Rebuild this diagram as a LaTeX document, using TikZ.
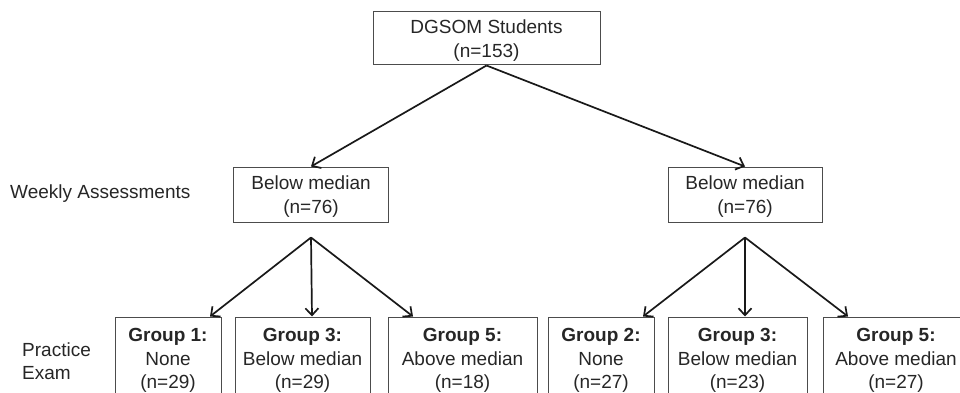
\documentclass[tikz,border=0pt]{standalone}
\usepackage{fontspec}
\setmainfont{Liberation Sans}
\usetikzlibrary{arrows.meta,positioning}

\begin{document}
\begin{tikzpicture}[x=1pt,y=-1pt,
  every node/.style={font=\fontsize{19}{23.5}\selectfont,text=black!85},
  box/.style={draw=black!70,line width=1pt,align=center,inner sep=0pt,text depth=0pt},
  lbl/.style={align=left,inner sep=0pt,anchor=west},
  arr/.style={line width=1.7pt,draw=black!90,-{Straight Barb[length=7pt,width=13pt]}}]
\path[use as bounding box,clip] (0,0) rectangle (960,393);

\node[box,minimum width=227pt,minimum height=53pt] (top) at (486.5,38.5) {DGSOM Students\\(n=153)};

\node[lbl] (wklbl) at (10,194) {Weekly Assessments};
\node[box,minimum width=155pt,minimum height=55pt] (wk1) at (311,194.5) {Below median\\(n=76)};
\node[box,minimum width=154pt,minimum height=55pt] (wk2) at (745,194.5) {Below median\\(n=76)};

\node[lbl] (exlbl) at (22,361) {Practice\\Exam};
\node[box,minimum width=106pt,minimum height=83pt] (g1) at (168,358.5) {\textbf{Group 1:}\\None\\(n=29)};
\node[box,minimum width=135pt,minimum height=83pt] (g2) at (302.5,358.5) {\textbf{Group 3:}\\Below median\\(n=29)};
\node[box,minimum width=149pt,minimum height=83pt] (g3) at (462.5,358.5) {\textbf{Group 5:}\\Above median\\(n=18)};
\node[box,minimum width=106pt,minimum height=83pt] (g4) at (601,358.5) {\textbf{Group 2:}\\None\\(n=27)};
\node[box,minimum width=139pt,minimum height=83pt] (g5) at (737.5,358.5) {\textbf{Group 3:}\\Below median\\(n=23)};
\node[box,minimum width=146pt,minimum height=83pt] (g6) at (896,358.5) {\textbf{Group 5:}\\Above median\\(n=27)};

% arrows
\draw[arr] (top.south) -- (wk1.north);
\draw[arr] (top.south) -- (wk2.north);

\coordinate[below=15pt of wk1] (s1);
\coordinate[below=15pt of wk2] (s2);
\draw[arr] (s1) -- ([xshift=42pt]g1.north);
\draw[arr] (s1) -- ([xshift=9.5pt]g2.north);
\draw[arr] (s1) -- ([xshift=-49.5pt]g3.north);
\draw[arr] (s2) -- ([xshift=42pt]g4.north);
\draw[arr] (s2) -- ([xshift=7.5pt]g5.north);
\draw[arr] (s2) -- ([xshift=-48pt]g6.north);
\end{tikzpicture}
\end{document}
